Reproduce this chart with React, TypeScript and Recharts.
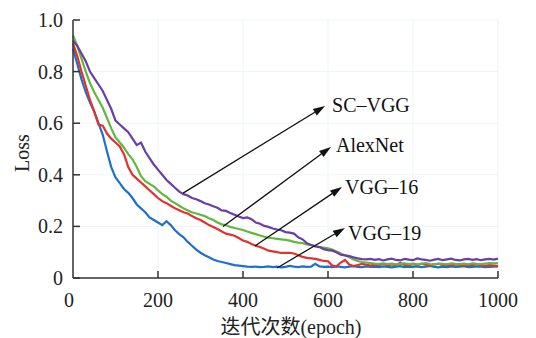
import { CartesianGrid, Line, LineChart, ReferenceLine, XAxis, YAxis } from "recharts";

const EPOCHS = Array.from({ length: 101 }, (_, i) => i * 10);

// loss curves, one value every 10 epochs
const SC_VGG = [
  0.92, 0.9, 0.87, 0.84, 0.8, 0.775, 0.75, 0.725, 0.69, 0.655,
  0.61, 0.595, 0.58, 0.565, 0.54, 0.515, 0.525, 0.49, 0.465, 0.44,
  0.42, 0.4, 0.38, 0.365, 0.35, 0.335, 0.325, 0.32, 0.31, 0.305,
  0.298, 0.29, 0.285, 0.278, 0.272, 0.262, 0.26, 0.252, 0.245, 0.238,
  0.232, 0.235, 0.228, 0.215, 0.21, 0.202, 0.198, 0.192, 0.188, 0.185,
  0.178, 0.176, 0.172, 0.158, 0.15, 0.135, 0.128, 0.122, 0.12, 0.112,
  0.108, 0.106, 0.1, 0.09, 0.088, 0.085, 0.08, 0.076, 0.073, 0.072,
  0.074, 0.07, 0.073, 0.068, 0.072, 0.075, 0.07, 0.068, 0.074, 0.071,
  0.069, 0.076, 0.072, 0.07, 0.067, 0.071, 0.074, 0.069, 0.072, 0.075,
  0.07, 0.068, 0.072, 0.074, 0.07, 0.073, 0.069, 0.072, 0.074, 0.071,
  0.075,
];
const ALEXNET = [
  0.94, 0.9, 0.85, 0.8, 0.755, 0.72, 0.69, 0.66, 0.62, 0.58,
  0.545, 0.525, 0.505, 0.48, 0.46, 0.43, 0.395, 0.375, 0.365, 0.355,
  0.34, 0.325, 0.315, 0.3, 0.29, 0.28, 0.27, 0.262, 0.255, 0.25,
  0.245, 0.24, 0.232, 0.225, 0.215, 0.208, 0.205, 0.198, 0.194, 0.19,
  0.186, 0.18, 0.175, 0.17, 0.165, 0.16, 0.156, 0.154, 0.152, 0.15,
  0.148, 0.145, 0.14, 0.137, 0.135, 0.13, 0.128, 0.124, 0.12, 0.118,
  0.115, 0.11, 0.103, 0.095, 0.088, 0.08, 0.072, 0.066, 0.062, 0.06,
  0.058, 0.056, 0.055, 0.057, 0.054, 0.056, 0.053, 0.055, 0.057, 0.054,
  0.056, 0.053, 0.055, 0.058, 0.054, 0.052, 0.056, 0.055, 0.053, 0.057,
  0.055, 0.054, 0.056, 0.053, 0.057, 0.055, 0.054, 0.056, 0.058, 0.057,
  0.058,
];
const VGG16 = [
  0.91, 0.86, 0.8, 0.745, 0.69, 0.645, 0.595, 0.59, 0.56, 0.54,
  0.525, 0.51, 0.48, 0.43, 0.4, 0.385, 0.37, 0.355, 0.34, 0.325,
  0.31, 0.298, 0.29, 0.28, 0.27, 0.263, 0.255, 0.25, 0.24, 0.232,
  0.225, 0.215, 0.205, 0.198, 0.19, 0.18, 0.172, 0.168, 0.164, 0.155,
  0.145, 0.14, 0.132, 0.125, 0.12, 0.113, 0.106, 0.103, 0.1, 0.097,
  0.097, 0.097, 0.095, 0.088, 0.082, 0.078, 0.076, 0.074, 0.07, 0.066,
  0.065, 0.048, 0.045, 0.06, 0.07, 0.052, 0.046, 0.05, 0.055, 0.052,
  0.048, 0.052, 0.05, 0.055, 0.049, 0.053, 0.05, 0.058, 0.051, 0.049,
  0.054, 0.05, 0.056, 0.052, 0.048, 0.053, 0.055, 0.05, 0.052, 0.049,
  0.053, 0.051, 0.048, 0.052, 0.05, 0.054, 0.049, 0.047, 0.05, 0.048,
  0.046,
];
const VGG19 = [
  0.89, 0.83, 0.77, 0.72, 0.68, 0.645, 0.6, 0.555, 0.49, 0.43,
  0.39, 0.368, 0.345, 0.33, 0.31, 0.285, 0.27, 0.255, 0.235, 0.225,
  0.215, 0.205, 0.22, 0.205, 0.185, 0.17, 0.158, 0.14, 0.125, 0.11,
  0.098, 0.088, 0.08, 0.072, 0.066, 0.062, 0.058, 0.054, 0.05, 0.048,
  0.046, 0.044, 0.043, 0.044, 0.042, 0.043, 0.045, 0.042, 0.044, 0.041,
  0.043, 0.047, 0.044, 0.042, 0.045, 0.043, 0.044, 0.055, 0.045, 0.043,
  0.044, 0.042, 0.045, 0.043, 0.041, 0.044, 0.046, 0.043, 0.042, 0.045,
  0.043, 0.044, 0.042, 0.045, 0.043, 0.041, 0.044, 0.046, 0.042, 0.044,
  0.043, 0.045, 0.042, 0.044, 0.047, 0.043, 0.041, 0.044, 0.042, 0.045,
  0.043, 0.044, 0.046, 0.042, 0.043, 0.045, 0.044, 0.042, 0.043, 0.044,
  0.045,
];

const X_TICKS = [0, 200, 400, 600, 800, 1000];
const Y_TICKS = [0, 0.2, 0.4, 0.6, 0.8, 1.0];

const SERIES = [
  { key: "vgg19", color: "#1f6fd0", values: VGG19 },
  { key: "vgg16", color: "#e2322f", values: VGG16 },
  { key: "alexnet", color: "#62b83d", values: ALEXNET },
  { key: "scvgg", color: "#6a3ea8", values: SC_VGG },
];

// arrow labels: tail on the curve, head next to the text (data coords)
const ANNOTATIONS = [
  { label: "SC–VGG", from: [259, 0.329], to: [593, 0.667], dx: 7, dy: -1 },
  { label: "AlexNet", from: [353, 0.2], to: [607, 0.508], dx: 5, dy: -2 },
  { label: "VGG–16", from: [428, 0.124], to: [633, 0.353], dx: 3, dy: 0 },
  { label: "VGG–19", from: [480, 0.039], to: [640, 0.194], dx: 3, dy: 5 },
];

const data = EPOCHS.map((epoch, i) => {
  const row: Record<string, number> = { epoch };
  SERIES.forEach((s) => (row[s.key] = s.values[i]));
  return row;
});

const FONT = "Liberation Serif, DejaVu Serif, serif";
const AXIS = "#333";

function YTick({ x, y, payload }: any) {
  const v = payload.value;
  return (
    <g>
      <text x={x} y={y} textAnchor="end" dominantBaseline="central" fontSize={20} style={{ fontFamily: FONT }} fill="#222">
        {v === 0 ? "0" : v.toFixed(1)}
      </text>
      <line x1={x + 10} x2={x + 17} y1={y} y2={y} stroke={AXIS} strokeWidth={1.5} />
    </g>
  );
}

function XTick({ x, y, payload }: any) {
  const v = payload.value;
  return (
    <g>
      <text x={v === 0 ? x - 4 : x} y={y + 29} textAnchor="middle" fontSize={20} style={{ fontFamily: FONT }} fill="#222">
        {v}
      </text>
      {v !== 0 && <line x1={x} x2={x} y1={y} y2={y - 7} stroke={AXIS} strokeWidth={1.5} />}
    </g>
  );
}

function arrow(label: string, dx: number, dy: number) {
  return (p: any) => {
    const { x1, y1, x2, y2 } = p;
    const a = Math.atan2(y2 - y1, x2 - x1);
    const c = Math.cos(a);
    const s = Math.sin(a);
    const bx = x2 - 12 * c;
    const by = y2 - 12 * s;
    const pts = `${x2},${y2} ${bx - 3.8 * s},${by + 3.8 * c} ${bx + 3.8 * s},${by - 3.8 * c}`;
    return (
      <g>
        <line x1={x1} y1={y1} x2={bx} y2={by} stroke="#111" strokeWidth={1.3} />
        <polygon points={pts} fill="#111" />
        <text x={x2 + dx} y={y2 + dy} dominantBaseline="central" fontSize={20} style={{ fontFamily: FONT }} fill="#111">
          {label}
        </text>
      </g>
    );
  };
}

export default function App() {
  return (
    <div style={{ position: "absolute", left: 0, top: 0, width: 536, height: 338, background: "#fff", fontFamily: FONT }}>
      <LineChart width={536} height={338} data={data} margin={{ top: 20, right: 38, bottom: 30, left: 33 }}>
        <CartesianGrid stroke="#eef5f5" />
        <XAxis
          type="number"
          dataKey="epoch"
          domain={[0, 1000]}
          ticks={X_TICKS}
          interval={0}
          height={30}
          tickSize={0}
          tickMargin={0}
          tickLine={false}
          axisLine={{ stroke: AXIS, strokeWidth: 1.5 }}
          tick={XTick}
        />
        <YAxis
          type="number"
          domain={[0, 1]}
          ticks={Y_TICKS}
          interval={0}
          width={40}
          tickSize={0}
          tickMargin={10}
          tickLine={false}
          axisLine={{ stroke: AXIS, strokeWidth: 1.5 }}
          tick={YTick}
        />
        {SERIES.map((s) => (
          <Line
            key={s.key}
            type="linear"
            dataKey={s.key}
            stroke={s.color}
            strokeWidth={2.2}
            dot={false}
            isAnimationActive={false}
          />
        ))}
        {ANNOTATIONS.map((a) => (
          <ReferenceLine
            key={a.label}
            segment={[
              { x: a.from[0], y: a.from[1] },
              { x: a.to[0], y: a.to[1] },
            ]}
            shape={arrow(a.label, a.dx, a.dy)}
          />
        ))}
      </LineChart>
      <div
        style={{
          position: "absolute",
          left: 22,
          top: 153,
          transform: "translate(-50%, -50%) rotate(-90deg)",
          fontSize: 20,
          color: "#222",
          whiteSpace: "nowrap",
        }}
      >
        Loss
      </div>
      <div
        style={{
          position: "absolute",
          left: 291,
          top: 325,
          transform: "translate(-50%, -50%)",
          fontSize: 20,
          color: "#222",
          whiteSpace: "nowrap",
          fontFamily: "Liberation Serif, Noto Sans CJK SC, serif",
        }}
      >
        迭代次数(epoch)
      </div>
    </div>
  );
}
